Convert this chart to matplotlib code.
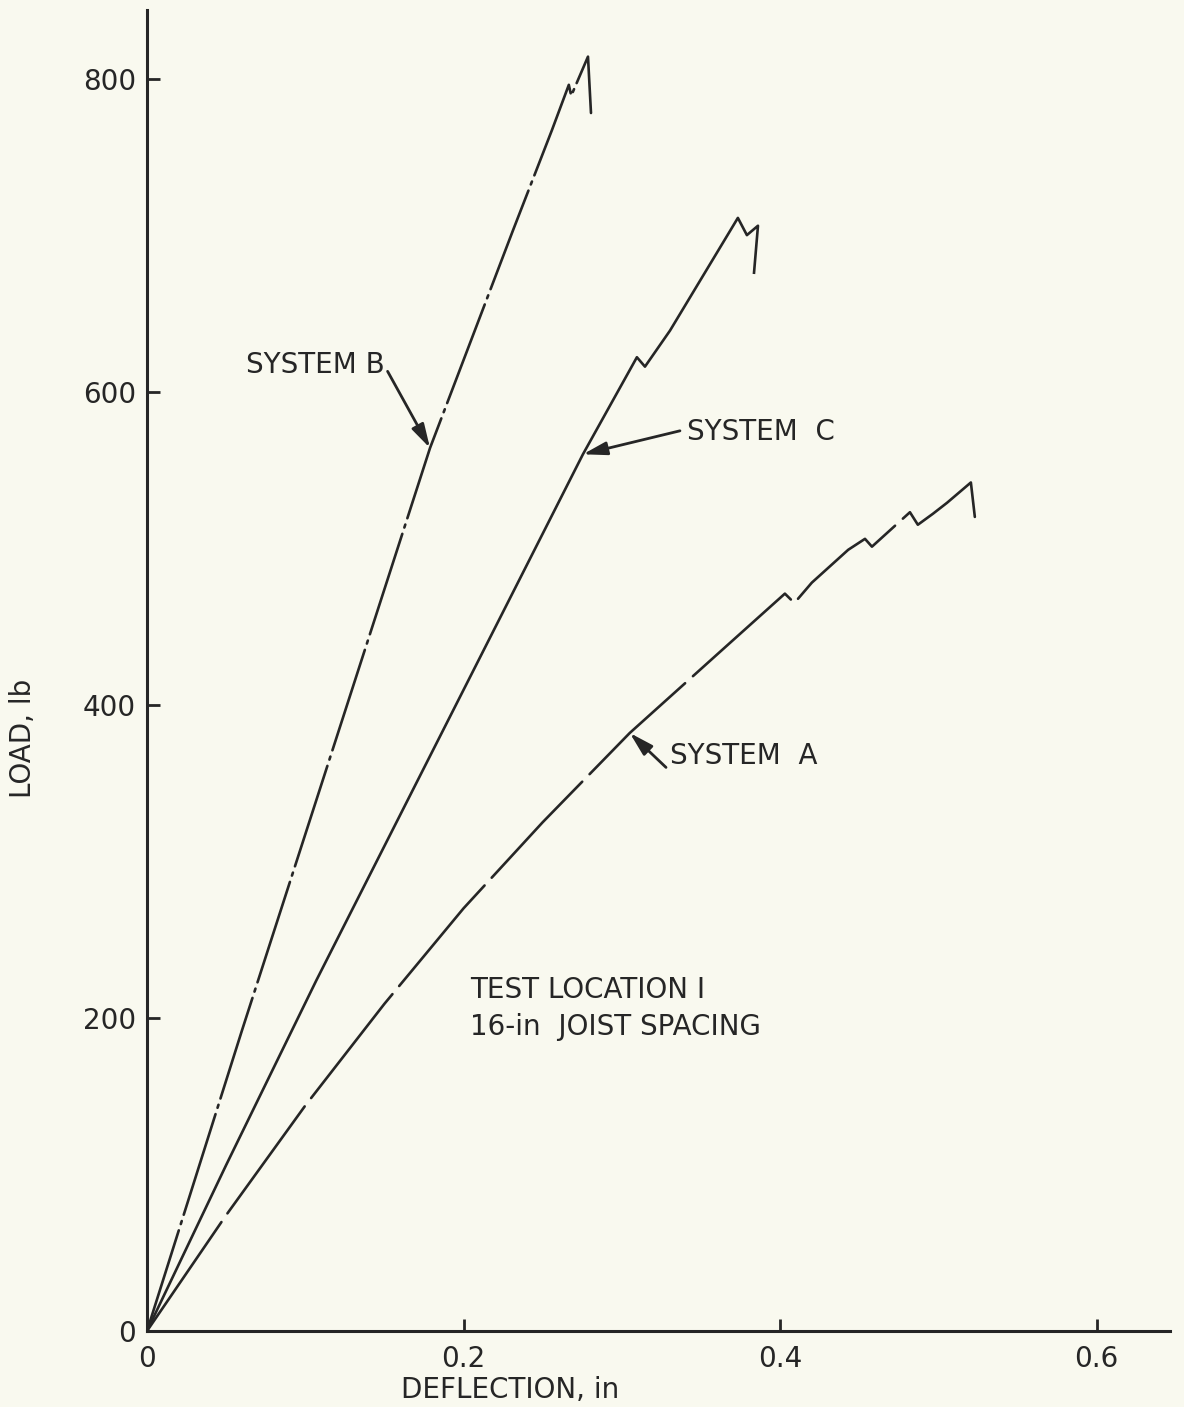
import matplotlib
matplotlib.use("Agg")
import matplotlib.pyplot as plt

# Load-deflection records, test location 1, 16-in joist spacing
deflection_a = [0.0, 0.05, 0.10, 0.15, 0.20, 0.25, 0.305, 0.36, 0.403, 0.409, 0.42,
                0.443, 0.4536, 0.458, 0.482, 0.487, 0.4965, 0.5054, 0.5205, 0.523]
load_a = [0, 74, 144, 209, 270, 325, 382, 432, 471, 465, 478,
          499, 506, 501, 523, 515, 522, 529, 542, 520]

deflection_b = [0.0, 0.06, 0.1788, 0.2312, 0.2558, 0.2665, 0.268, 0.2786, 0.2805]
load_b = [0, 192, 564, 703, 767, 796, 789, 814, 778]

deflection_c = [0.0, 0.05, 0.107, 0.2754, 0.3095, 0.3146, 0.3304,
                0.3733, 0.379, 0.386, 0.3835]
load_c = [0, 106, 224, 560, 622, 616, 639, 711, 700, 706, 676]

x_ticks = [0.0, 0.2, 0.4, 0.6]
x_tick_labels = ["0", "0.2", "0.4", "0.6"]
y_ticks = [0, 200, 400, 600, 800]
y_tick_labels = ["0", "200", "400", "600", "800"]

ink = "#262626"
paper = "#f9f9ef"

W, H = 1184, 1407
fig = plt.figure(figsize=(W / 100, H / 100), dpi=100, facecolor=paper)
ax = fig.add_axes([147 / W, 76 / H, (1170 - 147) / W, (1331 - 10) / H])
ax.set_facecolor(paper)

ax.plot(deflection_a, load_a, color=ink, lw=1.9, linestyle=(0, (50, 4)),
        solid_joinstyle="round", dash_capstyle="round")
ax.plot(deflection_b, load_b, color=ink, lw=1.9, linestyle=(0, (40, 2.5, 1.2, 2.5)),
        solid_joinstyle="round", dash_capstyle="round")
ax.plot(deflection_c, load_c, color=ink, lw=1.9, solid_joinstyle="round")

ax.set_xlim(0, 0.6463)
ax.set_ylim(0, 843.8)

for side in ("top", "right"):
    ax.spines[side].set_visible(False)
for side in ("left", "bottom"):
    ax.spines[side].set_linewidth(2.2)
    ax.spines[side].set_color(ink)

ax.set_xticks(x_ticks)
ax.set_xticklabels(x_tick_labels)
ax.set_yticks(y_ticks)
ax.set_yticklabels(y_tick_labels)
ax.tick_params(direction="in", length=9, width=2, color=ink, labelcolor=ink,
               labelsize=20)
ax.tick_params(axis="y", pad=8)
ax.tick_params(axis="x", pad=10)

fs = 20
arrow = dict(arrowstyle="-|>,head_length=0.9,head_width=0.25", color=ink, lw=2,
             mutation_scale=16, shrinkA=0, shrinkB=0)

# System B label
ax.text(0.1503, 617, "SYSTEM B", ha="right", va="center", fontsize=fs, color=ink)
ax.annotate("", xy=(0.1788, 564), xytext=(0.152, 613), arrowprops=arrow)

# System C label
ax.text(0.3412, 574, "SYSTEM  C", ha="left", va="center", fontsize=fs, color=ink)
ax.annotate("", xy=(0.2754, 560), xytext=(0.3367, 575), arrowprops=arrow)

# System A label
ax.text(0.3304, 367, "SYSTEM  A", ha="left", va="center", fontsize=fs, color=ink)
ax.annotate("", xy=(0.305, 382), xytext=(0.3279, 360), arrowprops=arrow)

# Test description
ax.text(0.204, 218, "TEST LOCATION I", ha="left", va="center", fontsize=fs, color=ink)
ax.text(0.204, 194, "16-in  JOIST SPACING", ha="left", va="center", fontsize=fs, color=ink)

# Axis titles
fig.text(510 / W, 1 - 1390 / H, "DEFLECTION, in", ha="center", va="center",
         fontsize=fs, color=ink)
fig.text(23 / W, 1 - 738 / H, "LOAD, lb", ha="center", va="center", rotation=90,
         fontsize=fs, color=ink)

fig.savefig("out.png", dpi=100, facecolor=paper)
